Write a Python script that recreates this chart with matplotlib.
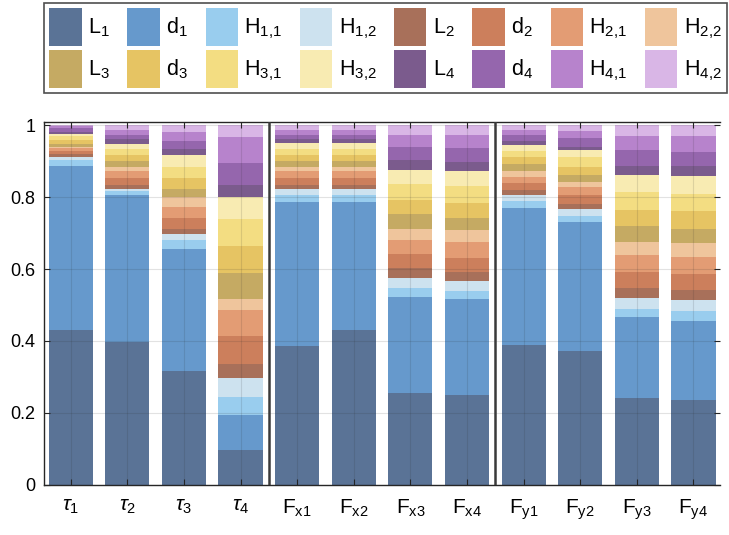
import matplotlib
matplotlib.use('Agg')
import matplotlib.pyplot as plt
import numpy as np

plt.rcParams['font.family'] = ['Liberation Sans', 'DejaVu Sans']
plt.rcParams['mathtext.fontset'] = 'custom'
plt.rcParams['mathtext.rm'] = 'Liberation Sans'
plt.rcParams['mathtext.it'] = 'Liberation Sans:italic'

bars = [r'$\tau_1$', r'$\tau_2$', r'$\tau_3$', r'$\tau_4$',
        r'$\mathrm{F_{x1}}$', r'$\mathrm{F_{x2}}$', r'$\mathrm{F_{x3}}$', r'$\mathrm{F_{x4}}$',
        r'$\mathrm{F_{y1}}$', r'$\mathrm{F_{y2}}$', r'$\mathrm{F_{y3}}$', r'$\mathrm{F_{y4}}$']

parts = [r'$\mathrm{L_1}$', r'$\mathrm{d_1}$', r'$\mathrm{H_{1{,}1}}$', r'$\mathrm{H_{1{,}2}}$',
         r'$\mathrm{L_2}$', r'$\mathrm{d_2}$', r'$\mathrm{H_{2{,}1}}$', r'$\mathrm{H_{2{,}2}}$',
         r'$\mathrm{L_3}$', r'$\mathrm{d_3}$', r'$\mathrm{H_{3{,}1}}$', r'$\mathrm{H_{3{,}2}}$',
         r'$\mathrm{L_4}$', r'$\mathrm{d_4}$', r'$\mathrm{H_{4{,}1}}$', r'$\mathrm{H_{4{,}2}}$']

colors = ['#5a7396', '#6699cc', '#99cdee', '#cde2ef',
          '#a8705a', '#cc7f5c', '#e39c74', '#efc59c',
          '#c5aa63', '#e6c463', '#f3dd82', '#f8ebb2',
          '#7b5b8d', '#9566ad', '#b783cc', '#d9b6e6']

# one row per bar, 16 shares each (L1 .. H4,2)
tau1 = [0.430, 0.458, 0.015, 0.010, 0.006, 0.010, 0.007, 0.005,
        0.006, 0.012, 0.010, 0.007, 0.006, 0.010, 0.006, 0.002]
tau2 = [0.397, 0.408, 0.012, 0.007, 0.009, 0.021, 0.020, 0.010,
        0.018, 0.014, 0.018, 0.014, 0.014, 0.012, 0.013, 0.013]
tau3 = [0.316, 0.341, 0.023, 0.018, 0.014, 0.031, 0.031, 0.026,
        0.023, 0.031, 0.030, 0.032, 0.018, 0.023, 0.024, 0.019]
tau4 = [0.096, 0.098, 0.050, 0.053, 0.040, 0.077, 0.071, 0.033,
        0.071, 0.074, 0.077, 0.060, 0.034, 0.060, 0.073, 0.033]
fx1 = [0.385, 0.403, 0.017, 0.018, 0.012, 0.019, 0.018, 0.013,
       0.015, 0.016, 0.018, 0.016, 0.012, 0.012, 0.013, 0.013]
fx2 = [0.430, 0.358, 0.017, 0.018, 0.012, 0.019, 0.018, 0.013,
       0.015, 0.016, 0.018, 0.016, 0.012, 0.012, 0.013, 0.013]
fx3 = [0.256, 0.266, 0.026, 0.028, 0.028, 0.037, 0.041, 0.030,
       0.042, 0.037, 0.046, 0.040, 0.027, 0.035, 0.033, 0.028]
fx4 = [0.249, 0.267, 0.024, 0.027, 0.026, 0.039, 0.043, 0.034,
       0.033, 0.042, 0.048, 0.042, 0.025, 0.037, 0.037, 0.027]
fy1 = [0.390, 0.380, 0.019, 0.016, 0.015, 0.019, 0.018, 0.015,
       0.021, 0.018, 0.017, 0.016, 0.012, 0.018, 0.013, 0.013]
fy2 = [0.371, 0.359, 0.019, 0.019, 0.014, 0.023, 0.023, 0.014,
       0.021, 0.022, 0.028, 0.017, 0.011, 0.024, 0.019, 0.016]
fy3 = [0.242, 0.225, 0.023, 0.029, 0.029, 0.044, 0.048, 0.035,
       0.045, 0.043, 0.051, 0.048, 0.024, 0.044, 0.039, 0.031]
fy4 = [0.237, 0.218, 0.029, 0.029, 0.028, 0.046, 0.046, 0.039,
       0.040, 0.049, 0.048, 0.051, 0.026, 0.041, 0.042, 0.031]

data = np.array([tau1, tau2, tau3, tau4, fx1, fx2, fx3, fx4, fy1, fy2, fy3, fy4])
data = data / data.sum(axis=1, keepdims=True)

fig = plt.figure(figsize=(7.29, 5.35), dpi=100)
ax = fig.add_axes([0.0597, 0.094, 0.928, 0.6785])

x = np.arange(len(bars))
bottom = np.zeros(len(bars))
handles = []
for k in range(data.shape[1]):
    h = ax.bar(x, data[:, k], width=0.78, bottom=bottom, color=colors[k],
               label=parts[k], linewidth=0)
    handles.append(h)
    bottom += data[:, k]

ax.set_xlim(-0.48, 11.47)
ax.set_ylim(0, 1.01)
ax.set_yticks([0, 0.2, 0.4, 0.6, 0.8, 1])
ax.set_yticklabels(['0', '0.2', '0.4', '0.6', '0.8', '1'])
ax.set_xticks(x)
ax.set_xticklabels(bars)
ax.tick_params(axis='y', labelsize=13, direction='in', length=4, right=True,
               color='#262626', pad=6)
ax.tick_params(axis='x', labelsize=15, direction='in', length=4, top=True,
               color='#262626', pad=9)
ax.set_axisbelow(False)
ax.grid(True, color='#262626', alpha=0.13, linewidth=0.8)
for s in ['left', 'top', 'bottom']:
    ax.spines[s].set_color('#262626')
    ax.spines[s].set_linewidth(1.0)
ax.spines['right'].set_visible(False)

for sep in [3.5, 7.5]:
    ax.axvline(sep, color='#3a3a3a', linewidth=1.8, zorder=5)

# legend fills by column, so interleave to get rows L1..H2,2 / L3..H4,2
order = [i for pair in zip(range(8), range(8, 16)) for i in pair]
leg = fig.legend(handles=[handles[i] for i in order], ncol=8, loc='upper left',
                 bbox_to_anchor=(44 / 729, 1 - 92 / 535, 683 / 729, 89 / 535),
                 mode='expand', fontsize=15.5, frameon=True, fancybox=False,
                 edgecolor='#222222', handlelength=1.5, handleheight=2.3,
                 handletextpad=0.3, columnspacing=0.5, borderpad=0.25,
                 labelspacing=0.2, borderaxespad=0)
leg.get_frame().set_linewidth(1.2)

fig.savefig('out.png', dpi=100)
